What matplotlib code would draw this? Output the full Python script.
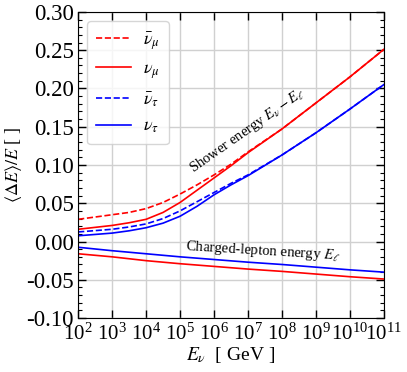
import matplotlib
matplotlib.use("Agg")
import matplotlib.pyplot as plt
import numpy as np
from matplotlib.ticker import MultipleLocator, LogLocator, NullLocator, FormatStrFormatter

plt.rcParams["font.family"] = ["Liberation Serif", "DejaVu Serif"]
plt.rcParams["mathtext.fontset"] = "stix"
plt.rcParams["axes.unicode_minus"] = True

# log10(E_nu / GeV)
logE = [2, 3, 3.5, 4, 4.5, 5, 5.5, 6, 6.5, 7, 8, 9, 10, 11]
numu_shower = [0.016, 0.021, 0.0245, 0.029, 0.038, 0.051, 0.067, 0.083, 0.099, 0.116, 0.147, 0.181, 0.215, 0.251]
numubar_shower = [0.029, 0.035, 0.038, 0.043, 0.051, 0.062, 0.074, 0.087, 0.101, 0.117, 0.147, 0.181, 0.215, 0.251]
nutau_shower = [0.0075, 0.011, 0.014, 0.018, 0.024, 0.033, 0.046, 0.061, 0.074, 0.086, 0.113, 0.142, 0.173, 0.205]
nutaubar_shower = [0.0125, 0.016, 0.019, 0.023, 0.030, 0.040, 0.052, 0.064, 0.076, 0.087, 0.113, 0.142, 0.173, 0.205]

logE_lep = [2, 3, 4, 5, 6, 7, 8, 9, 10, 11]
mu_lepton = [-0.016, -0.020, -0.025, -0.029, -0.0325, -0.036, -0.039, -0.0425, -0.046, -0.049]
tau_lepton = [-0.0075, -0.012, -0.016, -0.020, -0.0235, -0.027, -0.030, -0.0335, -0.037, -0.040]

E = 10.0 ** np.array(logE)
E_lep = 10.0 ** np.array(logE_lep)

fig = plt.figure(figsize=(4.07, 3.72), dpi=100)
ax = fig.add_axes([0.192, 0.145, 0.751, 0.823])

ax.plot(E, numubar_shower, "r--", lw=1.2, label=r"$\bar{\nu}_\mu$")
ax.plot(E, numu_shower, "r-", lw=1.2, label=r"$\nu_\mu$")
ax.plot(E, nutaubar_shower, "b--", lw=1.2, label=r"$\bar{\nu}_\tau$")
ax.plot(E, nutau_shower, "b-", lw=1.2, label=r"$\nu_\tau$")
ax.plot(E_lep, mu_lepton, "r-", lw=1.2)
ax.plot(E_lep, tau_lepton, "b-", lw=1.2)

ax.set_xscale("log")
ax.set_xlim(1e2, 1e11)
ax.set_ylim(-0.1, 0.3)
ax.xaxis.set_major_locator(LogLocator(base=10, numticks=20))
ax.xaxis.set_minor_locator(NullLocator())
ax.yaxis.set_major_locator(MultipleLocator(0.05))
ax.yaxis.set_minor_locator(MultipleLocator(0.01))
ax.yaxis.set_major_formatter(FormatStrFormatter("%.2f"))
ax.tick_params(which="both", direction="in", top=True, right=True)
ax.tick_params(which="major", length=6, width=1)
ax.tick_params(which="minor", length=3, width=0.8)
ax.tick_params(axis="x", pad=4, labelsize=15)
ax.tick_params(axis="y", pad=3, labelsize=16.5)
ax.grid(True, color="#d0d0d0", lw=1)
ax.set_axisbelow(True)

ax.set_xlabel(r"$E_\nu$  [ GeV ]", fontsize=14, labelpad=0)
ax.set_ylabel(r"$\langle\Delta E\rangle/E$ [ ]", fontsize=13, labelpad=2)

ax.text(10 ** 5.38, 0.09, r"Shower energy $E_\nu - E_\ell$", fontsize=10.5,
        rotation=35, rotation_mode="anchor", ha="left", va="baseline")
ax.text(10 ** 5.15, -0.0115, r"Charged-lepton energy $E_\ell$", fontsize=10.5,
        rotation=-3.5, rotation_mode="anchor", ha="left", va="baseline")

ax.legend(loc="upper left", fontsize=13, handlelength=1.9, labelspacing=0.5,
          borderpad=0.5, handletextpad=0.7, framealpha=0.8)

fig.savefig("out.png", dpi=100)
